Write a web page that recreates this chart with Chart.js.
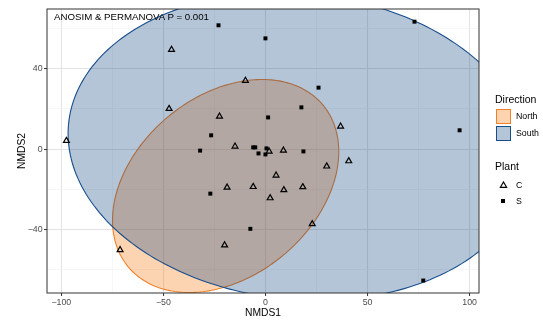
<!DOCTYPE html>
<html>
<head>
<meta charset="utf-8">
<script src="https://cdn.jsdelivr.net/npm/chart.js@4.4.0/dist/chart.umd.min.js"></script>
<style>
  html, body { margin: 0; padding: 0; background: #fff; }
  #wrap { position: relative; width: 543px; height: 322px; font-family: "Liberation Sans", Arial, sans-serif; }
  #grafico { position: absolute; left: 0; top: 0; }
  .txt { position: absolute; white-space: nowrap; color: #000; }
  .caja { position: absolute; width: 15px; height: 15px; box-sizing: border-box; }
</style>
</head>
<body>
<div id="wrap">
  <canvas id="grafico" width="543" height="322"></canvas>
  <div class="txt" style="left:54px; top:11px; font-size:9.7px; line-height:12px;">ANOSIM &amp; PERMANOVA P = 0.001</div>

  <div class="txt" style="left:495px; top:93px; font-size:10.5px; line-height:12px;">Direction</div>
  <div class="caja" style="left:496px; top:109px; background:rgb(252,212,176); border:1.4px solid rgb(240,128,40);"></div>
  <div class="txt" style="left:516px; top:111px; font-size:8.8px; line-height:11px;">North</div>
  <div class="caja" style="left:496px; top:126px; background:rgb(180,197,216); border:1.4px solid rgb(25,78,140);"></div>
  <div class="txt" style="left:516px; top:128px; font-size:8.8px; line-height:11px;">South</div>

  <div class="txt" style="left:495px; top:160px; font-size:10.5px; line-height:12px;">Plant</div>
  <svg style="position:absolute; left:499px; top:181px;" width="9" height="8">
    <polygon points="4.5,1 7.6,6.3 1.4,6.3" fill="none" stroke="#000" stroke-width="1.2"/>
  </svg>
  <div class="txt" style="left:516px; top:180px; font-size:8.8px; line-height:11px;">C</div>
  <div style="position:absolute; left:501.3px; top:198.7px; width:4px; height:4px; background:#000;"></div>
  <div class="txt" style="left:516px; top:195.5px; font-size:8.8px; line-height:11px;">S</div>
</div>

<script>
// Puntos por planta (NMDS1, NMDS2)
const plantaCx = [-97.5, -46, -9.8, -47.2, -22.5, -14.9, 1.8, 8.8, 30, 36.8, 40.8, 5.2, -18.8, -6, 9, 18.3, 2.3, 22.9, -20, -71.2];
const plantaCy = [4.2, 49.5, 34.1, 20.1, 16.3, 1.4, -1.1, -0.6, -8.5, 11.3, -5.9, -13, -19, -18.7, -20.3, -18.8, -24.3, -37.2, -47.7, -50.1];
const plantaSx = [-23, 0, 73, 26, 17.6, 1.3, -26.6, -32, -6, -5, -3.4, 0.5, 0, 18.6, 95.1, -27, -7.4, 77.3];
const plantaSy = [61.6, 55.1, 63.4, 30.6, 20.8, 15.8, 6.9, -0.7, 0.9, 0.9, -2.1, 0.4, -2.6, -1.1, 9.4, -22.1, -39.6, -65.3];

// Elipses por direccion (North, South)
const direcciones = ["North", "South"];
const centroX = [-19.5, 16];
const centroY = [-18.3, 1.3];
const radioMayor = [62.4, 113];
const radioMenor = [44.5, 76];
const angulos = [41, -6];

// Marcas de los ejes
const ticksX = [-100, -50, 0, 50, 100];
const menoresX = [-75, -25, 25, 75];
const ticksY = [-40, 0, 40];
const menoresY = [-60, -20, 20, 60];

const rellenos = ["rgba(245,112,0,0.3)", "rgba(5,62,125,0.3)"];
const bordes = ["rgb(240,128,40)", "rgb(25,78,140)"];
const fuente = '"Liberation Sans", Arial, sans-serif';

function formato(v) {
    return v < 0 ? "\u2212" + Math.abs(v) : String(v);
}

const elipses = {
    id: "elipses",
    beforeDatasetsDraw(chart) {
        const { ctx, chartArea, scales } = chart;
        ctx.save();
        ctx.beginPath();
        ctx.rect(chartArea.left, chartArea.top, chartArea.width, chartArea.height);
        ctx.clip();
        for (let g = 0; g < direcciones.length; g++) {
            const th = angulos[g] * Math.PI / 180;
            ctx.beginPath();
            for (let k = 0; k <= 240; k++) {
                const t = k / 240 * 2 * Math.PI;
                const u = radioMayor[g] * Math.cos(t);
                const v = radioMenor[g] * Math.sin(t);
                const px = scales.x.getPixelForValue(centroX[g] + u * Math.cos(th) - v * Math.sin(th));
                const py = scales.y.getPixelForValue(centroY[g] + u * Math.sin(th) + v * Math.cos(th));
                if (k === 0) ctx.moveTo(px, py); else ctx.lineTo(px, py);
            }
            ctx.closePath();
            ctx.fillStyle = rellenos[g];
            ctx.fill();
            ctx.strokeStyle = bordes[g];
            ctx.lineWidth = 1.1;
            ctx.stroke();
        }
        ctx.restore();
    },
    afterDatasetsDraw(chart) {
        const { ctx, chartArea } = chart;
        ctx.save();
        ctx.strokeStyle = "#333333";
        ctx.lineWidth = 1;
        ctx.strokeRect(chartArea.left, chartArea.top, chartArea.width, chartArea.height);
        ctx.restore();
    }
};

function ejeGrid(mayores) {
    return {
        color: c => mayores.includes(c.tick.value) ? "#E3E3E3" : "#F1F1F1",
        lineWidth: c => mayores.includes(c.tick.value) ? 1.1 : 0.6,
        tickColor: c => mayores.includes(c.tick.value) ? "#333333" : "rgba(0,0,0,0)",
        tickLength: 3,
        tickWidth: 1
    };
}

const ctx = document.getElementById("grafico").getContext("2d");
new Chart(ctx, {
    type: "scatter",
    data: {
        datasets: [{
            label: "C",
            data: plantaCx.map((x, i) => ({ x: x, y: plantaCy[i] })),
            pointStyle: "triangle",
            pointRadius: 3.4,
            pointHoverRadius: 3.4,
            backgroundColor: "rgba(0,0,0,0)",
            borderColor: "#000",
            borderWidth: 1.2
        }, {
            label: "S",
            data: plantaSx.map((x, i) => ({ x: x, y: plantaSy[i] })),
            pointStyle: "rect",
            pointRadius: 2.8,
            pointHoverRadius: 2.8,
            backgroundColor: "#000",
            borderColor: "#000",
            borderWidth: 0
        }]
    },
    options: {
        responsive: false,
        animation: false,
        events: [],
        layout: { padding: { left: 0, right: 64, top: 9, bottom: 0 } },
        plugins: { legend: { display: false }, tooltip: { enabled: false } },
        scales: {
            x: {
                type: "linear",
                min: -107,
                max: 104.6,
                afterBuildTicks: s => { s.ticks = [...ticksX, ...menoresX].sort((a, b) => a - b).map(v => ({ value: v })); },
                afterFit: s => { s.height = 29; },
                grid: ejeGrid(ticksX),
                border: { display: false },
                ticks: {
                    autoSkip: false,
                    maxRotation: 0,
                    padding: 1.4,
                    color: "#4D4D4D",
                    font: { family: fuente, size: 8.8 },
                    callback: v => ticksX.includes(v) ? formato(v) : ""
                },
                title: { display: true, text: "NMDS1", color: "#000", font: { family: fuente, size: 10.3 }, padding: { top: 0, bottom: 3 } }
            },
            y: {
                type: "linear",
                min: -71.5,
                max: 69.7,
                afterBuildTicks: s => { s.ticks = [...ticksY, ...menoresY].sort((a, b) => a - b).map(v => ({ value: v })); },
                afterFit: s => { s.width = 47; },
                grid: ejeGrid(ticksY),
                border: { display: false },
                ticks: {
                    autoSkip: false,
                    padding: 1.4,
                    color: "#4D4D4D",
                    font: { family: fuente, size: 8.8 },
                    callback: v => ticksY.includes(v) ? formato(v) : ""
                },
                title: { display: true, text: "NMDS2", color: "#000", font: { family: fuente, size: 10.3 }, padding: { top: 16, bottom: 0 } }
            }
        }
    },
    plugins: [elipses]
});
</script>
</body>
</html>
